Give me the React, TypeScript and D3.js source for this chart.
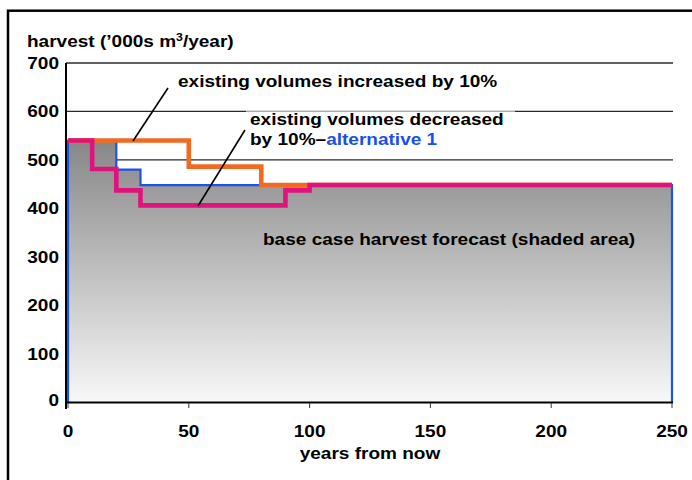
import React from "react";
import * as d3 from "d3";

// Harvest forecasts ('000s m³/year) as step series: value holds from each year until the next
const baseYears = [0, 20, 30, 250];
const baseHarvest = [540, 480, 448, 448];

const increasedYears = [0, 50, 80, 250];
const increasedHarvest = [540, 486, 448, 448];

const decreasedYears = [0, 10, 20, 30, 90, 100, 250];
const decreasedHarvest = [540, 481, 437, 406, 437, 448, 448];

const xTicks = [0, 50, 100, 150, 200, 250];
const yTicks = [0, 100, 200, 300, 400, 500, 600, 700];

const W = 692;
const H = 480;
const FONT = "'Liberation Sans', Arial, sans-serif";
const STRETCH = 1.12;

const x = d3.scaleLinear().domain([0, 250]).range([68, 672]);
const y = d3.scaleLinear().domain([0, 700]).range([402, 63]);

type Pt = [number, number];
const zipPts = (xs: number[], vs: number[]): Pt[] => xs.map((d, i) => [d, vs[i]]);

const step = d3
  .line<Pt>()
  .x((d) => x(d[0]))
  .y((d) => y(d[1]))
  .curve(d3.curveStepAfter);

const area = d3
  .area<Pt>()
  .x((d) => x(d[0]))
  .y0(y(0))
  .y1((d) => y(d[1]))
  .curve(d3.curveStepAfter);

const basePts = zipPts(baseYears, baseHarvest);
const baseOutline: Pt[] = [[0, 0], ...basePts, [250, 0]];

function T(props: {
  x: number;
  y: number;
  anchor?: "start" | "middle" | "end";
  size?: number;
  fill?: string;
  children: React.ReactNode;
}) {
  const { anchor = "start", size = 17, fill = "#000" } = props;
  return (
    <text
      transform={`translate(${props.x},${props.y}) scale(${STRETCH},1)`}
      textAnchor={anchor}
      fontFamily={FONT}
      fontWeight="bold"
      fontSize={size}
      fill={fill}
    >
      {props.children}
    </text>
  );
}

export default function App() {
  return (
    <svg
      width={W}
      height={H}
      style={{ position: "absolute", left: 0, top: 0, background: "#fff" }}
    >
      <defs>
        <linearGradient id="shade" x1="0" y1="0" x2="0" y2="1">
          <stop offset="0" stopColor="#878787" />
          <stop offset="1" stopColor="#f8f8f8" />
        </linearGradient>
      </defs>

      {/* outer frame */}
      <rect x={8} y={10.7} width={W + 20} height={H + 20} fill="none" stroke="#000" strokeWidth={2.5} />

      {/* gridlines */}
      {yTicks.slice(1).map((t) => (
        <line key={t} x1={66} x2={673} y1={y(t)} y2={y(t)} stroke="#2a2a2a" strokeWidth={1.3} />
      ))}

      {/* shaded base case */}
      <path d={area(basePts) || ""} fill="url(#shade)" />
      <path d={step(baseOutline) || ""} fill="none" stroke="#1f52e8" strokeWidth={2.2} />

      {/* alternative scenarios */}
      <path
        d={step(zipPts(increasedYears, increasedHarvest)) || ""}
        fill="none"
        stroke="#f26a21"
        strokeWidth={4.6}
      />
      <path
        d={step(zipPts(decreasedYears, decreasedHarvest)) || ""}
        fill="none"
        stroke="#e0137e"
        strokeWidth={4.6}
      />

      {/* axes */}
      <line x1={66} x2={66} y1={y(700)} y2={409} stroke="#000" strokeWidth={2} />
      <line x1={65} x2={673} y1={402.5} y2={402.5} stroke="#000" strokeWidth={2} />
      {xTicks.map((t) => (
        <line key={t} x1={x(t)} x2={x(t)} y1={403} y2={408} stroke="#333" strokeWidth={1} />
      ))}

      {yTicks.map((t) => (
        <T key={t} x={59} y={y(t) + (t === 0 ? 4 : 6)} anchor="end">
          {t}
        </T>
      ))}
      {xTicks.map((t) => (
        <T key={t} x={x(t)} y={437} anchor="middle">
          {t}
        </T>
      ))}

      <T x={27} y={47}>
        harvest (’000s m
        <tspan fontSize={11} dy={-6}>3</tspan>
        <tspan dy={6}>/year)</tspan>
      </T>
      <T x={370} y={459} anchor="middle">
        years from now
      </T>

      {/* annotations */}
      <rect x={246} y={110.5} width={269} height={44} fill="#fff" fillOpacity={0.6} />
      <T x={178} y={87}>existing volumes increased by 10%</T>
      <T x={250} y={125}>existing volumes decreased</T>
      <T x={250} y={145}>
        by 10%–<tspan fill="#1a4fe8">alternative 1</tspan>
      </T>
      <T x={263} y={245}>base case harvest forecast (shaded area)</T>

      <line x1={168} y1={88} x2={133} y2={141} stroke="#000" strokeWidth={1.6} />
      <line x1={245} y1={130} x2={198} y2={206} stroke="#000" strokeWidth={1.6} />
    </svg>
  );
}
